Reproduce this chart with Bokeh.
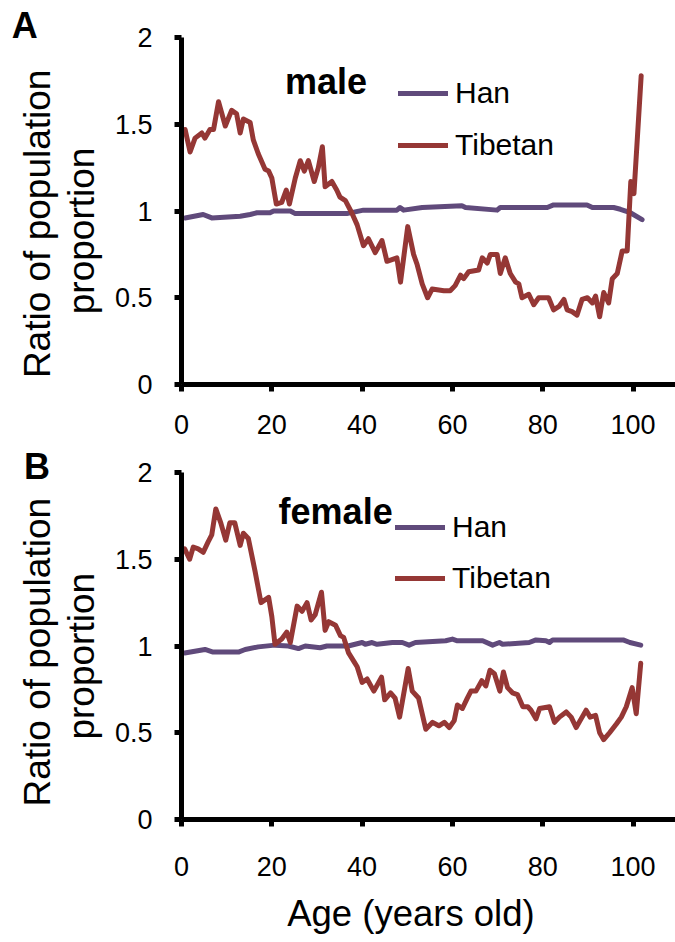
import math
from bokeh.plotting import figure
from bokeh.layouts import column
from bokeh.models import Legend, LegendItem, Label, FixedTicker, NumeralTickFormatter, Range1d
from bokeh.embed import file_html
from bokeh.resources import INLINE

# ---------------- data ----------------
male_tib_age = [0.8, 1.9, 3.0, 4.5, 5.2, 6.3, 7.1, 8.2, 9.7, 11.1, 12.2, 13.0, 13.7, 15.2, 15.9,
                17.0, 18.5, 19.3, 20.0, 21.0, 22.2, 23.2, 23.9, 25.2, 26.3, 27.2, 28.1, 29.4, 30.3,
                31.2, 31.8, 33.3, 34.4, 35.1, 36.3, 37.7, 38.9, 40.3, 41.4, 42.9, 44.4, 45.5, 47.7,
                48.5, 50.1, 51.4, 52.2, 53.3, 54.5, 55.5, 58.1, 59.5, 60.6, 61.8, 62.5, 63.6, 65.8,
                66.6, 67.7, 68.4, 69.9, 70.6, 71.7, 72.8, 74.0, 74.7, 75.4, 76.9, 78.0, 79.1, 81.3,
                82.4, 83.6, 84.7, 85.4, 86.5, 87.6, 88.7, 89.9, 91.0, 91.7, 92.6, 93.5, 94.6, 95.4,
                96.5, 97.6, 98.7, 99.5, 100.2, 101.8]
male_tib_ratio = [1.47, 1.34, 1.42, 1.45, 1.42, 1.47, 1.47, 1.63, 1.49, 1.58, 1.56, 1.45, 1.53, 1.51, 1.41,
                  1.33, 1.24, 1.23, 1.19, 1.04, 1.05, 1.12, 1.04, 1.19, 1.29, 1.23, 1.29, 1.17, 1.25,
                  1.37, 1.14, 1.17, 1.12, 1.08, 1.06, 0.99, 0.92, 0.80, 0.84, 0.76, 0.83, 0.71, 0.73,
                  0.59, 0.91, 0.75, 0.69, 0.58, 0.50, 0.55, 0.54, 0.54, 0.57, 0.63, 0.61, 0.65, 0.66,
                  0.73, 0.70, 0.75, 0.75, 0.64, 0.73, 0.64, 0.59, 0.58, 0.50, 0.52, 0.46, 0.50, 0.50,
                  0.43, 0.45, 0.49, 0.43, 0.42, 0.40, 0.49, 0.50, 0.47, 0.51, 0.39, 0.53, 0.47, 0.61,
                  0.64, 0.77, 0.77, 1.17, 1.10, 1.78]

male_han_age = [0.8, 4.8, 6.7, 13.0, 15.2, 16.7, 19.6, 20.4, 24.1, 25.2, 36.6, 40.3, 47.7, 48.4,
                49.2, 53.3, 62.1, 62.9, 69.9, 70.6, 81.0, 82.4, 89.8, 91.0, 95.7, 97.2, 99.4, 102.0]
male_han_ratio = [0.96, 0.98, 0.96, 0.97, 0.98, 0.99, 0.99, 1.00, 1.00, 0.985, 0.985, 1.005, 1.005, 1.02,
                  1.005, 1.02, 1.03, 1.02, 1.005, 1.02, 1.02, 1.035, 1.035, 1.02, 1.02, 1.01, 0.99, 0.95]

female_tib_age = [0.7, 1.8, 2.6, 3.7, 4.8, 5.9, 6.7, 7.6, 8.7, 9.8, 10.7, 11.8, 13.0, 13.7, 14.8,
                  16.3, 17.6, 19.3, 20.0, 20.7, 22.2, 23.3, 24.1, 25.6, 26.7, 27.8, 28.7, 29.6, 31.0,
                  31.8, 32.6, 34.1, 35.2, 35.9, 37.0, 38.2, 38.9, 40.0, 41.1, 42.6, 44.3, 45.0, 46.3,
                  47.3, 48.3, 50.2, 51.1, 52.5, 54.1, 55.6, 57.0, 58.2, 59.3, 60.4, 61.1, 62.2, 63.3,
                  64.1, 65.2, 66.5, 67.4, 68.3, 69.3, 70.5, 71.3, 72.2, 73.3, 74.4, 75.6, 76.7, 77.4,
                  78.5, 79.3, 81.5, 82.6, 83.7, 85.2, 86.3, 87.4, 88.5, 89.6, 90.5, 91.7, 92.6, 93.5,
                  94.8, 96.3, 97.4, 98.5, 99.8, 100.7, 101.7]
female_tib_ratio = [1.56, 1.50, 1.57, 1.56, 1.54, 1.60, 1.64, 1.79, 1.71, 1.61, 1.71, 1.71, 1.58, 1.65, 1.62,
                    1.43, 1.25, 1.28, 1.17, 1.01, 1.04, 1.08, 1.02, 1.23, 1.20, 1.25, 1.15, 1.18, 1.31,
                    1.09, 1.14, 1.12, 1.06, 1.05, 0.96, 0.91, 0.88, 0.79, 0.81, 0.74, 0.82, 0.69, 0.73,
                    0.70, 0.59, 0.87, 0.74, 0.70, 0.52, 0.56, 0.54, 0.56, 0.53, 0.57, 0.66, 0.64, 0.70,
                    0.74, 0.74, 0.80, 0.77, 0.86, 0.84, 0.74, 0.85, 0.76, 0.73, 0.72, 0.65, 0.65, 0.63,
                    0.58, 0.64, 0.65, 0.56, 0.59, 0.62, 0.59, 0.53, 0.58, 0.63, 0.59, 0.60, 0.50, 0.46,
                    0.50, 0.55, 0.59, 0.65, 0.76, 0.61, 0.90]

female_han_age = [0.7, 5.2, 7.0, 12.6, 14.1, 17.0, 20.7, 23.7, 25.9, 27.4, 30.7, 32.2, 36.9, 40.0,
                  40.7, 42.2, 43.3, 46.7, 48.9, 50.4, 51.8, 58.5, 60.0, 61.1, 66.7, 68.9, 70.4, 71.1,
                  77.0, 78.5, 80.7, 81.5, 82.2, 97.8, 99.3, 101.7]
female_han_ratio = [0.96, 0.98, 0.965, 0.965, 0.98, 0.995, 1.005, 1.0, 0.985, 1.0, 0.99, 1.0, 1.0, 1.02,
                    1.01, 1.02, 1.01, 1.02, 1.02, 1.005, 1.02, 1.03, 1.04, 1.03, 1.03, 1.005, 1.02, 1.01,
                    1.02, 1.035, 1.03, 1.02, 1.035, 1.035, 1.02, 1.005]

x_ticks = [0, 20, 40, 60, 80, 100]
y_ticks = [0, 0.5, 1, 1.5, 2]
series_names = ["Han", "Tibetan"]
panel_letters = ["A", "B"]
panel_titles = ["male", "female"]
x_title = "Age (years old)"
y_title_lines = ["Ratio of population", "proportion"]

HAN_COLOR = "#604A7B"
TIB_COLOR = "#953735"
FONT = "Liberation Sans"


def text_label(x, y, text, size, bold=False, angle=0.0, align="left"):
    return Label(x=x, y=y, text=text, text_font=FONT, text_font_size=size,
                 text_font_style="bold" if bold else "normal", text_color="black",
                 text_baseline="alphabetic", text_align=align, angle=angle)


def make_panel(han_x, han_y, tib_x, tib_y, letter, title, height, top, bottom,
               x_standoff, legend_loc, legend_spacing, title_xy, letter_xy,
               ytitle_xy, show_xlabel):
    p = figure(width=675, height=height, output_backend="svg", toolbar_location=None,
               x_range=Range1d(0, 109.4), y_range=Range1d(0, 2),
               min_border_left=181, min_border_right=0,
               min_border_top=top, min_border_bottom=bottom)
    p.outline_line_color = None
    p.xgrid.visible = False
    p.ygrid.visible = False
    p.background_fill_color = "white"
    p.border_fill_color = "white"

    for ax in (p.xaxis[0], p.yaxis[0]):
        ax.axis_line_width = 5
        ax.axis_line_color = "black"
        ax.major_tick_line_width = 5
        ax.major_tick_line_color = "black"
        ax.major_tick_out = 7
        ax.major_tick_in = 0
        ax.minor_tick_line_color = None
        ax.major_label_text_font = FONT
        ax.major_label_text_font_size = "27px"
        ax.major_label_text_color = "black"

    p.xaxis.ticker = FixedTicker(ticks=x_ticks)
    p.yaxis.ticker = FixedTicker(ticks=y_ticks)
    p.yaxis.formatter = NumeralTickFormatter(format="0.[0]")
    p.xaxis.major_label_standoff = x_standoff
    p.yaxis.major_label_standoff = 22

    r_han = p.line(han_x, han_y, line_color=HAN_COLOR, line_width=5,
                   line_join="round", line_cap="round")
    r_tib = p.line(tib_x, tib_y, line_color=TIB_COLOR, line_width=5,
                   line_join="round", line_cap="round")

    legend = Legend(items=[LegendItem(label=series_names[0], renderers=[r_han]),
                           LegendItem(label=series_names[1], renderers=[r_tib])],
                    location=legend_loc, orientation="vertical",
                    border_line_color=None, background_fill_alpha=0,
                    padding=0, margin=0, spacing=legend_spacing,
                    glyph_width=50, glyph_height=40, label_height=40,
                    label_standoff=7, label_text_font=FONT,
                    label_text_font_size="30px", label_text_color="black")
    p.add_layout(legend)

    p.add_layout(text_label(title_xy[0], title_xy[1], title, "36px", bold=True))

    # texts outside the plotting frame live in the side panels (not clipped)
    (l1x, l1y), (l2x, l2y) = ytitle_xy
    p.add_layout(text_label(l1x, l1y, y_title_lines[0], "37px", angle=math.pi / 2,
                            align="center"), "left")
    p.add_layout(text_label(l2x, l2y, y_title_lines[1], "37px", angle=math.pi / 2,
                            align="center"), "left")
    p.add_layout(text_label(letter_xy[0], letter_xy[1], letter, "36px", bold=True), "left")
    if show_xlabel:
        p.add_layout(text_label(50.8, -0.543, x_title, "36.5px", align="center"), "below")
    return p


pA = make_panel(male_han_age, male_han_ratio, male_tib_age, male_tib_ratio,
                panel_letters[0], panel_titles[0], height=445, top=37, bottom=61,
                x_standoff=23, legend_loc=(217, 219), legend_spacing=12,
                title_xy=(22.9, 1.749), letter_xy=(-37.6, 2.067),
                ytitle_xy=((-31.8, 0.926), (-22.2, 0.885)), show_xlabel=False)
pB = make_panel(female_han_age, female_han_ratio, female_tib_age, female_tib_ratio,
                panel_letters[1], panel_titles[1], height=497, top=27, bottom=123,
                x_standoff=30, legend_loc=(214, 221), legend_spacing=11,
                title_xy=(21.5, 1.778), letter_xy=(-34.9, 2.037),
                ytitle_xy=((-31.8, 0.964), (-22.2, 0.941)), show_xlabel=True)

layout = column(pA, pB, spacing=0)
open("out.html", "w").write(file_html(layout, INLINE))
